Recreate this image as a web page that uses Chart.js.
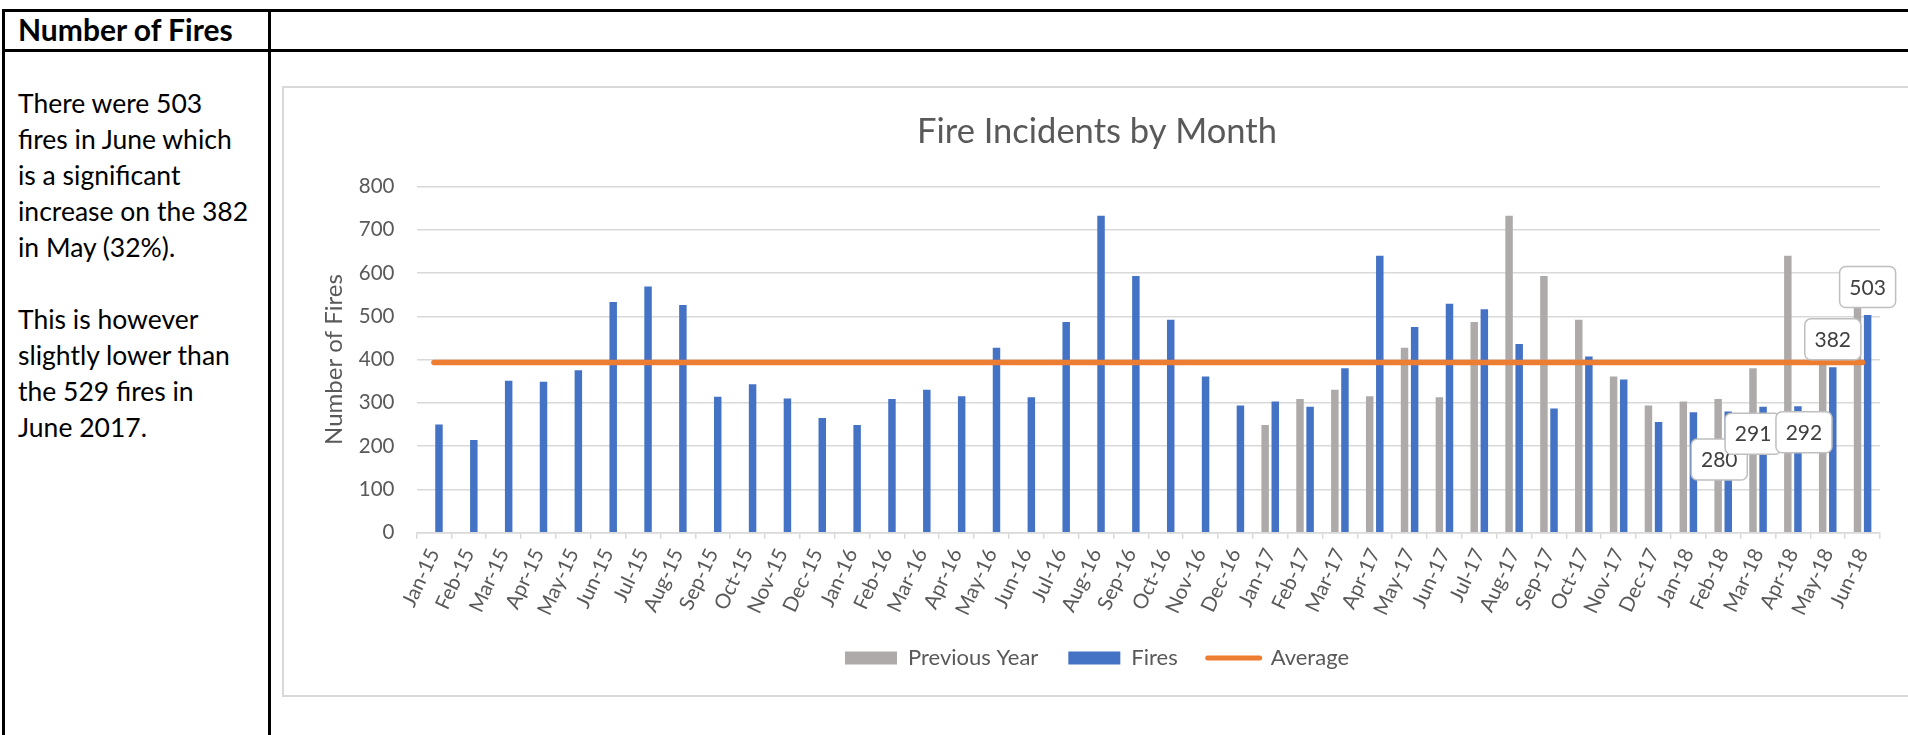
<!DOCTYPE html>
<html>
<head>
<meta charset="utf-8">
<title>Number of Fires</title>
<script src="https://cdn.jsdelivr.net/npm/chart.js@4.4.1/dist/chart.umd.min.js"></script>
<style>
  html, body { margin: 0; padding: 0; background: #fff; width: 1908px; height: 735px; overflow: hidden; }
  body { position: relative; font-family: Lato, "Liberation Sans", sans-serif; color: #000; }
  .rule { position: absolute; background: #000; }
  #heading { position: absolute; left: 18px; top: 11px; font-size: 30px; font-weight: bold; line-height: 36px; white-space: nowrap; }
  #notes { position: absolute; left: 18px; top: 85px; font-size: 26.5px; line-height: 36px; white-space: nowrap; }
  #chartBox { position: absolute; left: 282px; top: 86px; width: 1700px; height: 607px; border: 2px solid #d9d9d9; }
  #chartWrap { position: absolute; left: 284px; top: 88px; width: 1624px; height: 606px; }
</style>
</head>
<body>
<div class="rule" style="left:2px; top:9px; width:1906px; height:3px;"></div>
<div class="rule" style="left:2px; top:49px; width:1906px; height:3px;"></div>
<div class="rule" style="left:2px; top:9px; width:3px; height:726px;"></div>
<div class="rule" style="left:268px; top:9px; width:3px; height:726px;"></div>

<div id="heading">Number of Fires</div>
<div id="notes">There were 503<br>fires in June which<br>is a significant<br>increase on the 382<br>in May (32%).<br><br>This is however<br>slightly lower than<br>the 529 fires in<br>June 2017.</div>

<div id="chartBox"></div>
<div id="chartWrap"><canvas id="fireChart"></canvas></div>

<script>
// ---------- data ----------
const months = [
  'Jan-15', 'Feb-15', 'Mar-15', 'Apr-15', 'May-15', 'Jun-15', 'Jul-15', 'Aug-15', 'Sep-15', 'Oct-15', 'Nov-15', 'Dec-15',
  'Jan-16', 'Feb-16', 'Mar-16', 'Apr-16', 'May-16', 'Jun-16', 'Jul-16', 'Aug-16', 'Sep-16', 'Oct-16', 'Nov-16', 'Dec-16',
  'Jan-17', 'Feb-17', 'Mar-17', 'Apr-17', 'May-17', 'Jun-17', 'Jul-17', 'Aug-17', 'Sep-17', 'Oct-17', 'Nov-17', 'Dec-17',
  'Jan-18', 'Feb-18', 'Mar-18', 'Apr-18', 'May-18', 'Jun-18'
];

const fires = [
  250, 214, 351, 349, 375, 533, 569, 526, 314, 343, 310, 265,
  249, 309, 330, 315, 427, 313, 487, 732, 593, 492, 361, 294,
  303, 291, 380, 640, 475, 529, 516, 436, 287, 407, 354, 256,
  278, 280, 291, 292, 382, 503
];

const previousYear = [
  null, null, null, null, null, null, null, null, null, null, null, null,
  null, null, null, null, null, null, null, null, null, null, null, null,
  249, 309, 330, 315, 427, 313, 487, 732, 593, 492, 361, 294,
  303, 309, 380, 640, 475, 529
];

const average = [
  393, 393, 393, 393, 393, 393, 393, 393, 393, 393, 393, 393,
  393, 393, 393, 393, 393, 393, 393, 393, 393, 393, 393, 393,
  393, 393, 393, 393, 393, 393, 393, 393, 393, 393, 393, 393,
  393, 393, 393, 393, 393, 393
];

const yTicks = { min: 0, max: 800, step: 100 };

// months that carry a value box, and how far each box was nudged (px from bar top)
const labelled = [37, 38, 39, 40, 41];
const labelNudge = [[-9, 48], [-10, 27], [6, 26], [0, -28], [0, -28]];

const GREY = '#AEAAAA';
const BLUE = '#4472C4';
const ORANGE = '#ED7D31';
const TEXT = '#595959';
const GRID = '#d9d9d9';

// --- value boxes drawn on top of the Fires bars ---
const valueBoxes = {
    id: 'valueBoxes',
    afterDatasetsDraw(chart) {
        const ctx = chart.ctx;
        const meta = chart.getDatasetMeta(1);
        ctx.save();
        ctx.font = '21px Lato';
        ctx.textAlign = 'center';
        ctx.textBaseline = 'middle';
        labelled.forEach((i, k) => {
            const bar = meta.data[i];
            const cx = bar.x + labelNudge[k][0];
            const cy = bar.y + labelNudge[k][1];
            const w = 56, h = 41;
            ctx.beginPath();
            ctx.roundRect(cx - w / 2, cy - h / 2, w, h, 6);
            ctx.fillStyle = '#fff';
            ctx.fill();
            ctx.lineWidth = 1.5;
            ctx.strokeStyle = '#bfbfbf';
            ctx.stroke();
            ctx.fillStyle = '#404040';
            ctx.fillText(String(fires[i]), cx, cy + 1);
        });
        ctx.restore();
    }
};

new Chart(document.getElementById('fireChart'), {
    type: 'bar',
    data: {
        labels: months,
        datasets: [
            {
                label: 'Previous Year',
                data: previousYear,
                backgroundColor: GREY,
                borderWidth: 0,
                categoryPercentage: 0.58,
                barPercentage: 0.74,
                order: 1
            },
            {
                label: 'Fires',
                data: fires,
                backgroundColor: BLUE,
                borderWidth: 0,
                categoryPercentage: 0.58,
                barPercentage: 0.74,
                order: 1
            },
            {
                type: 'line',
                label: 'Average',
                data: average,
                borderColor: ORANGE,
                backgroundColor: ORANGE,
                borderWidth: 5.5,
                borderCapStyle: 'round',
                pointRadius: 0,
                fill: false,
                order: 0
            }
        ]
    },
    options: {
        responsive: true,
        maintainAspectRatio: false,
        animation: false,
        layout: { padding: { left: 30, right: 28, top: 0, bottom: 15 } },
        plugins: {
            title: {
                display: true,
                text: 'Fire Incidents by Month',
                color: TEXT,
                font: { family: 'Lato', size: 34.5, weight: 'normal' },
                padding: { top: 23, bottom: 34 }
            },
            legend: {
                position: 'bottom',
                labels: {
                    color: TEXT,
                    font: { family: 'Lato', size: 22 },
                    usePointStyle: true,
                    pointStyleWidth: 52,
                    boxHeight: 13,
                    padding: 30,
                    sort: (a, b) => a.datasetIndex - b.datasetIndex,
                    generateLabels(chart) {
                        const items = Chart.defaults.plugins.legend.labels.generateLabels(chart);
                        items.forEach(it => {
                            if (it.datasetIndex === 2) {
                                it.pointStyle = 'line';
                                it.lineWidth = 5;
                                it.strokeStyle = ORANGE;
                                it.lineCap = 'round';
                            } else {
                                it.pointStyle = 'rect';
                                it.lineWidth = 0;
                            }
                        });
                        return items;
                    }
                }
            },
            tooltip: { enabled: false }
        },
        scales: {
            x: {
                grid: { display: true, drawOnChartArea: false, drawTicks: true, tickLength: 6, offset: true, color: GRID, lineWidth: 1.5 },
                border: { display: true, color: GRID, width: 1.5 },
                ticks: {
                    color: TEXT,
                    font: { family: 'Lato', size: 20.5 },
                    minRotation: 65,
                    maxRotation: 65,
                    autoSkip: false,
                    padding: 6
                },
                afterFit(scale) { scale.height = 84.3; }
            },
            y: {
                min: yTicks.min,
                max: yTicks.max,
                grid: { color: GRID, lineWidth: 1.5, drawTicks: false },
                border: { display: false },
                ticks: {
                    stepSize: yTicks.step,
                    color: TEXT,
                    font: { family: 'Lato', size: 20.5 },
                    padding: 22
                },
                title: {
                    display: true,
                    text: 'Number of Fires',
                    color: TEXT,
                    font: { family: 'Lato', size: 24, weight: 'normal' },
                    padding: { top: 6, bottom: 0 }
                },
                afterFit(scale) { scale.width = 102.5; }
            }
        }
    },
    plugins: [valueBoxes]
});
</script>
</body>
</html>
